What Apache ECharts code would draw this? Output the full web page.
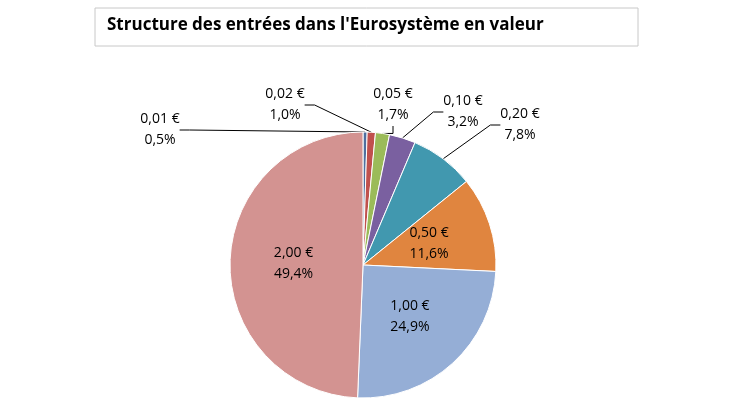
<![CDATA[<!DOCTYPE html><html><head><meta charset="utf-8"><script src="https://cdn.jsdelivr.net/npm/echarts@6/dist/echarts.min.js"></script>
<style>html,body{margin:0;background:#fff}#c{width:730px;height:410px}</style></head><body><div id="c"></div><script>
const categories=['0,01 €','0,02 €','0,05 €','0,10 €','0,20 €','0,50 €','1,00 €','2,00 €'];
const values=[0.5,1.0,1.7,3.2,7.8,11.6,24.9,49.4];
const labelText=['0,5%','1,0%','1,7%','3,2%','7,8%','11,6%','24,9%','49,4%'];
const colors=['#4f6f9f','#c0504d','#9bbb59','#7a60a0','#4198af','#e0853f','#95aed6','#d39391'];
const outsidePos={0:[160,130],1:[285,105],2:[393,105],3:[463,112],4:[520,125]};
const chart=echarts.init(document.getElementById('c'));
chart.setOption({
 graphic:[{type:'rect',shape:{x:95,y:8,width:543,height:38},style:{fill:'#fff',stroke:'#c8c8c8',lineWidth:1}},
 {type:'text',left:107,top:17,style:{text:"Structure des entrées dans l'Eurosystème en valeur",font:'bold 17px "Open Sans", sans-serif',fill:'#000'}}],
 series:[{type:'pie',center:[363,265],radius:133,startAngle:90,clockwise:true,animation:false,
  itemStyle:{borderColor:'#fff',borderWidth:1},
  data:categories.map((c,i)=>({name:c,value:values[i],itemStyle:{color:colors[i]},
   label:i>=5?{position:'inside'}:{position:'outside'},labelLine:{show:i<5}})),
  label:{formatter:p=>p.name+'\n'+labelText[p.dataIndex],color:'#000',fontSize:14,lineHeight:21,fontFamily:'"Open Sans", sans-serif',align:'center'},
  labelLine:{lineStyle:{color:'#000',width:1},length:10,length2:10},
  labelLayout:p=>outsidePos[p.dataIndex]?{x:outsidePos[p.dataIndex][0],y:outsidePos[p.dataIndex][1],align:'center',verticalAlign:'middle'}:{}
 }]});
</script></body></html>]]>
